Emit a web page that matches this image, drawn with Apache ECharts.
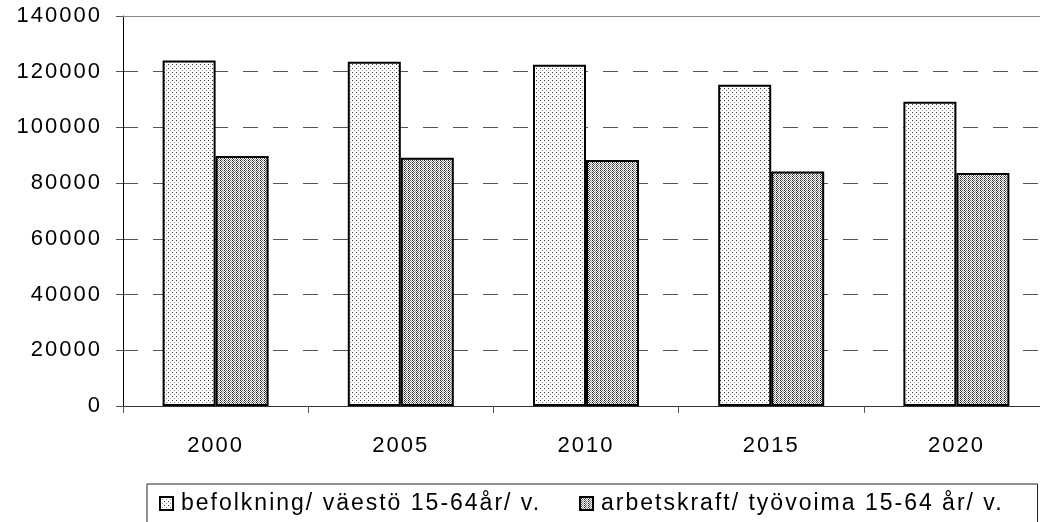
<!DOCTYPE html>
<html>
<head>
<meta charset="utf-8">
<script src="https://cdn.jsdelivr.net/npm/echarts@6/dist/echarts.min.js"></script>
<style>
  html, body { margin: 0; padding: 0; background: #fff; }
  #chart { width: 1040px; height: 522px; }
</style>
</head>
<body>
<div id="chart"></div>
<script>
const years = ['2000', '2005', '2010', '2015', '2020'];
const befolkning = [124000, 123600, 122500, 115300, 109200];
const arbetskraft = [89700, 89100, 88300, 84200, 83600];
const seriesNames = ['befolkning/ väestö 15-64år/ v.', 'arbetskraft/ työvoima 15-64 år/ v.'];

// the original chart uses widely spaced text; echarts has no letterSpacing option,
// so set it on the canvas context whenever a font is applied
const fontDesc = Object.getOwnPropertyDescriptor(CanvasRenderingContext2D.prototype, 'font');
Object.defineProperty(CanvasRenderingContext2D.prototype, 'font', {
  get() { return fontDesc.get.call(this); },
  set(v) { fontDesc.set.call(this, v); this.letterSpacing = '2px'; }
});

// small dotted tiles to mimic the hatch fills
const makeTile = (w, h, dots) => {
  const c = document.createElement('canvas');
  c.width = w; c.height = h;
  const ctx = c.getContext('2d');
  ctx.fillStyle = '#fff';
  ctx.fillRect(0, 0, w, h);
  dots.forEach(d => {
    ctx.fillStyle = d[2];
    ctx.fillRect(d[0], d[1], 1, 1);
  });
  return c;
};

const sparse = makeTile(4, 4, [[0, 0, '#333'], [2, 2, '#888']]);
const dense = makeTile(4, 2, [[0, 0, '#222'], [1, 1, '#444'], [2, 0, '#777'], [3, 1, '#999']]);

const font = 'Arial, "Liberation Sans", sans-serif';
const chart = echarts.init(document.getElementById('chart'));

chart.setOption({
  animation: false,
  backgroundColor: '#fff',
  // plot runs a little past the right edge in the original
  grid: { left: 123, width: 926, top: 16, bottom: 116, outerBoundsMode: 'none' },
  legend: {
    data: seriesNames,
    icon: 'rect',
    left: 147,
    top: 484,
    itemWidth: 13,
    itemHeight: 13,
    itemGap: 38,
    borderColor: '#222',
    borderWidth: 1,
    padding: [7, 34, 20, 12],
    textStyle: { fontFamily: font, fontSize: 23, color: '#000', padding: [0, 0, 0, 3] }
  },
  xAxis: [
    {
      type: 'category',
      data: years,
      axisLine: { lineStyle: { color: '#333', width: 1 } },
      axisTick: { show: true, length: 7, lineStyle: { color: '#555' } },
      axisLabel: { margin: 28, fontFamily: font, fontSize: 22, color: '#000' }
    },
    {
      type: 'category',
      data: years,
      position: 'top',
      axisLine: { lineStyle: { color: '#888', width: 1 } },
      axisTick: { show: false },
      axisLabel: { show: false }
    }
  ],
  yAxis: {
    type: 'value',
    min: 0,
    max: 140000,
    interval: 20000,
    axisLine: { show: true, lineStyle: { color: '#000', width: 1 } },
    axisTick: { show: true, length: 7, lineStyle: { color: '#555' } },
    axisLabel: { margin: 21, fontFamily: font, fontSize: 22, color: '#000', formatter: v => String(v) },
    splitLine: { lineStyle: { color: '#555', type: [15, 15], width: 1 } }
  },
  series: [
    {
      name: seriesNames[0],
      type: 'bar',
      barWidth: 53,
      barGap: 0,
      data: befolkning,
      itemStyle: { color: { image: sparse, repeat: 'repeat' }, borderColor: '#000', borderWidth: 2 }
    },
    {
      name: seriesNames[1],
      type: 'bar',
      barWidth: 53,
      data: arbetskraft,
      itemStyle: { color: { image: dense, repeat: 'repeat' }, borderColor: '#000', borderWidth: 2 }
    }
  ]
});
</script>
</body>
</html>
